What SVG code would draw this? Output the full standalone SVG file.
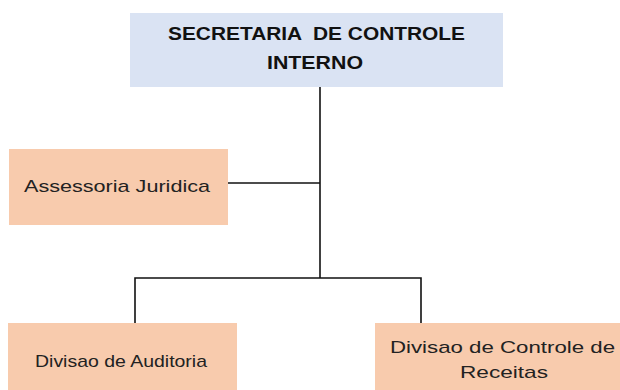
<svg xmlns="http://www.w3.org/2000/svg" width="620" height="390" viewBox="0 0 620 390">
<style>
.t{font-family:"Liberation Sans",Arial,sans-serif;font-size:17px;fill:#222;}
.b{font-family:"Liberation Sans",Arial,sans-serif;font-size:18px;font-weight:bold;fill:#111;white-space:pre;}
.o{fill:#F8CBAD;}
.c{stroke:#111;stroke-width:1.6;fill:none;}
</style>
<rect width="620" height="390" fill="#fff"/>
<g id="connectors">
<path class="c" d="M320,87 V278"/>
<path class="c" d="M228,183 H320"/>
<path class="c" d="M135,323 V278 H421 V323"/>
</g>
<g id="secretaria">
<rect x="130" y="13" width="373" height="74" fill="#DAE3F3"/>
<text class="b" x="168" y="40" textLength="297" lengthAdjust="spacingAndGlyphs" xml:space="preserve">SECRETARIA  DE CONTROLE</text>
<text class="b" x="267" y="69" textLength="96" lengthAdjust="spacingAndGlyphs">INTERNO</text>
</g>
<g id="assessoria">
<rect class="o" x="9" y="149" width="219" height="76"/>
<text class="t" x="24" y="192" textLength="186" lengthAdjust="spacingAndGlyphs">Assessoria Juridica</text>
</g>
<g id="auditoria">
<rect class="o" x="8" y="323" width="229" height="70"/>
<text class="t" x="35" y="367" textLength="172" lengthAdjust="spacingAndGlyphs">Divisao de Auditoria</text>
</g>
<g id="receitas">
<rect class="o" x="375" y="323" width="250" height="70"/>
<text class="t" x="390" y="353" textLength="225" lengthAdjust="spacingAndGlyphs">Divisao de Controle de</text>
<text class="t" x="460" y="378" textLength="88" lengthAdjust="spacingAndGlyphs">Receitas</text>
</g>
</svg>
